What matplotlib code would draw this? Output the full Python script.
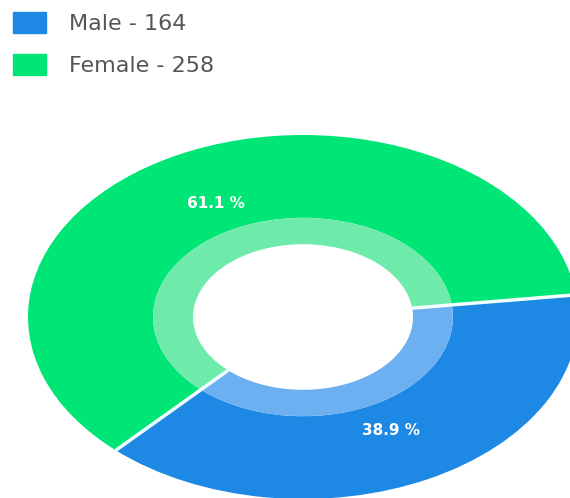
import numpy as np
import matplotlib.pyplot as plt
from matplotlib.patches import Rectangle

labels = ['Male', 'Female']
counts = [164, 258]
colors = ['#1E88E5', '#00E676']
light_colors = ['#6DB0F2', '#6EEBAA']

W, H = 570, 498
plt.rcParams['font.family'] = ['DejaVu Sans']
fig = plt.figure(figsize=(W / 100, H / 100), dpi=100)

# donut: unit circle stretched into an ellipse (pixel centre and semi-axes)
cx, cy, rx, ry = 303, 317, 275, 182
start = 7
r_mid, r_hole = 0.545, 0.40

ax = fig.add_axes([0, 0, 1, 1])
ax.pie(counts, colors=colors, startangle=start, counterclock=False,
       radius=1.0, wedgeprops=dict(width=1 - r_mid, linewidth=0),
       autopct='%.1f %%', pctdistance=0.7,
       textprops=dict(color='white', fontsize=11, fontweight='bold'))
ax.pie(counts, colors=light_colors, startangle=start, counterclock=False,
       radius=r_mid, wedgeprops=dict(width=r_mid - r_hole, linewidth=0))

# white separators between the slices
frac = np.cumsum([0] + counts)[:-1] / sum(counts)
for a in np.deg2rad(start - 360 * frac):
    ax.plot([r_hole * np.cos(a), np.cos(a)], [r_hole * np.sin(a), np.sin(a)],
            color='#F2FFFF', lw=2.5, solid_capstyle='butt')

ax.set_aspect('auto')
sx = W / rx
sy = H / ry
ax.set_xlim(-cx / W * sx, (1 - cx / W) * sx)
ax.set_ylim(-(H - cy) / H * sy, cy / H * sy)
ax.axis('off')

# legend in pixel space
lax = fig.add_axes([0, 0, 1, 1])
lax.set_xlim(0, W)
lax.set_ylim(H, 0)
lax.axis('off')
for i, (name, n) in enumerate(zip(labels, counts)):
    y0 = 12 + i * 42
    lax.add_patch(Rectangle((13, y0), 33, 21, color=colors[i]))
    lax.text(69, y0 + 12, f'{name} - {n}', fontsize=16, color='#555555',
             va='center', ha='left')

fig.savefig('out.png', dpi=100)
